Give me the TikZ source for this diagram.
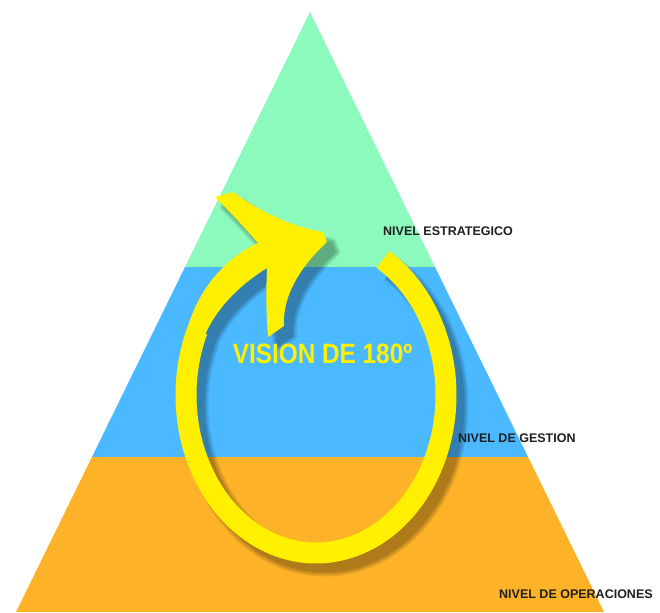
\documentclass[tikz,border=0pt]{standalone}
\usepackage{fontspec}
\setmainfont{Liberation Sans}
\definecolor{pgreen}{RGB}{140,250,188}
\definecolor{pblue}{RGB}{75,185,255}
\definecolor{porange}{RGB}{253,178,40}
\definecolor{ayellow}{RGB}{255,240,0}
\tikzset{
  lbl/.style={font=\bfseries\fontsize{12.5}{13}\selectfont, anchor=base west, inner sep=0pt, text=black!88},
  ringline/.style={line width=21pt},
}
\newcommand{\ringpath}{plot[smooth, domain=-59:204, samples=120] ({316+130*cos(\x)},{395+158*sin(\x)})}
\newcommand{\headpath}{(183,347) .. controls (192,295) and (222,260) .. (258,243)
   .. controls (245,228) and (228,210) .. (215,197)
   -- (233,192)
   .. controls (260,212) and (295,228) .. (323,232)
   -- (327,242)
   .. controls (302,265) and (282,295) .. (284,326)
   -- (268,337)
   .. controls (266,310) and (266,290) .. (267,268)
   .. controls (240,285) and (212,310) .. (200,348) -- cycle}
\begin{document}
\begin{tikzpicture}[x=1pt,y=-1pt]
\useasboundingbox (0,0) rectangle (660,612);
\fill[white] (0,0) rectangle (660,612);
% pyramid bands
\fill[pgreen] (310,12) -- (435.0,267) -- (185.0,267) -- cycle;
\fill[pblue] (185.0,267) -- (435.0,267) -- (528.05,457) -- (91.95,457) -- cycle;
\fill[porange] (91.95,457) -- (528.05,457) -- (604,612) -- (16,612) -- cycle;
% arrow shadow (soft, layered)
\foreach \w/\o in {27/0.1, 23/0.12, 19/0.12}{
  \begin{scope}[shift={(9,10)}, transparency group, opacity=\o]
    \draw[line width=\w pt, black] \ringpath;
    \filldraw[black, line width={\w pt-19pt+0.1pt}, line join=round] \headpath;
  \end{scope}
}
% arrow
\draw[ringline, ayellow] \ringpath;
\fill[ayellow] \headpath;
% title
\node[font=\bfseries\fontsize{28}{28}\selectfont, text=ayellow, xscale=0.87, anchor=base, inner sep=0pt] (vision) at (322.5,363) {VISION DE 180º};
% labels
\node[lbl] (estr) at (383,235) {NIVEL ESTRATEGICO};
\node[lbl] (gest) at (458,442) {NIVEL DE GESTION};
\node[lbl] (oper) at (499,598) {NIVEL DE OPERACIONES};
\end{tikzpicture}
\end{document}
